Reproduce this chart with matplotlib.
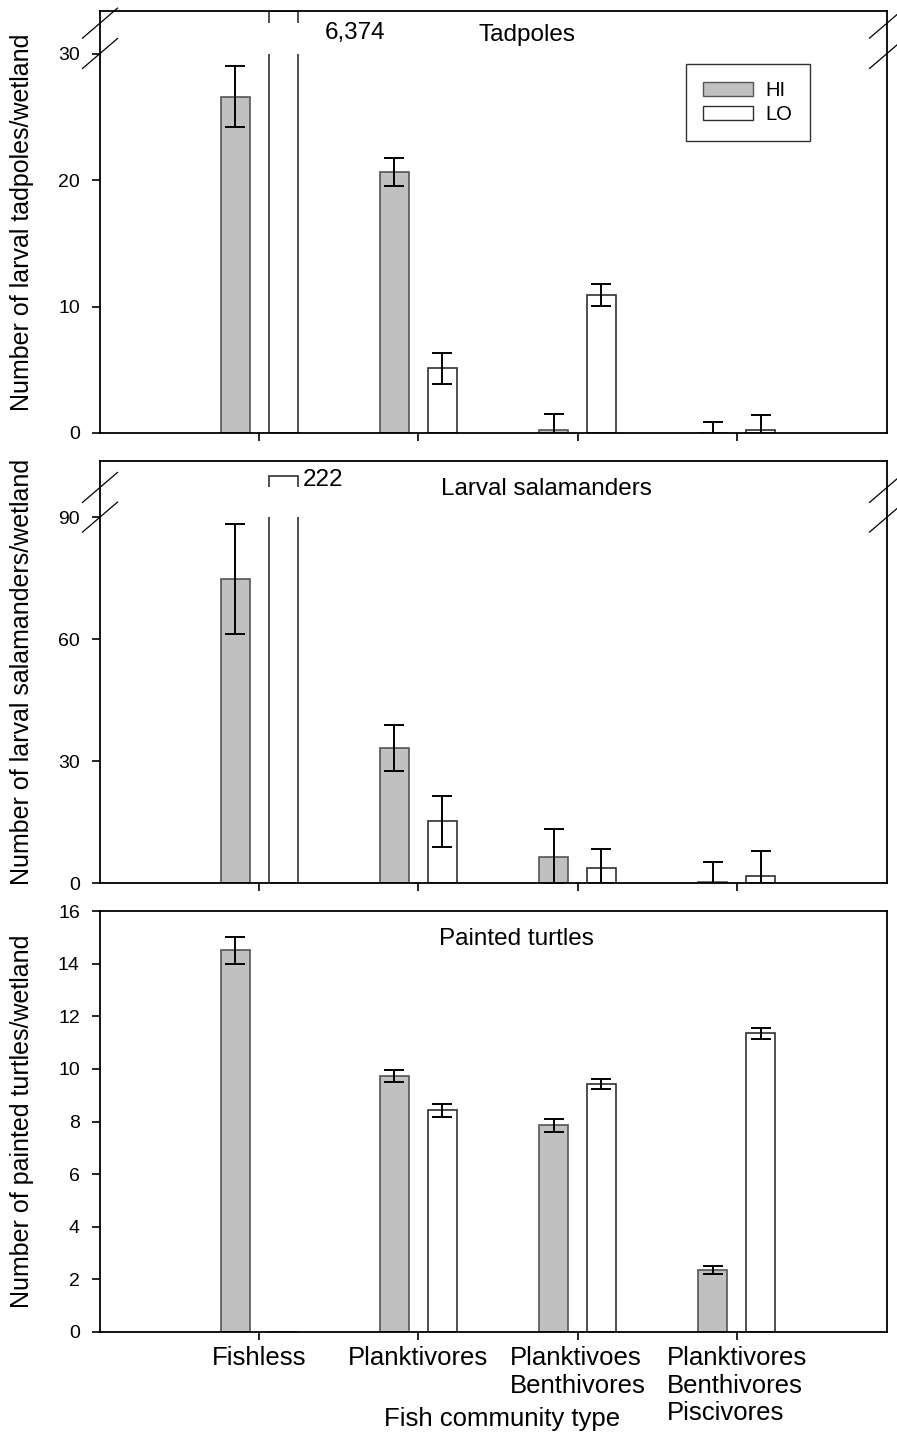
import numpy as np
import matplotlib
matplotlib.use("Agg")
import matplotlib.pyplot as plt
from matplotlib.patches import Rectangle, Patch

plt.rcParams['font.family'] = ['Liberation Sans', 'DejaVu Sans']

# ---------------- data ----------------
categories = ["Fishless", "Planktivores", "Planktivoes\nBenthivores",
              "Planktivores\nBenthivores\nPiscivores"]
series = ["HI", "LO"]

tad_hi = [26.6, 20.6, 0.26, 0.0]
tad_hi_err = [2.4, 1.1, 1.25, 0.9]
tad_lo = [6374, 5.1, 10.9, 0.24]
tad_lo_err = [np.nan, 1.2, 0.85, 1.15]

sal_hi = [74.7, 33.2, 6.5, 0.33]
sal_hi_err = [13.5, 5.75, 6.7, 4.9]
sal_lo = [222, 15.2, 3.8, 1.6]
sal_lo_err = [np.nan, 6.3, 4.6, 6.2]

tur_hi = [14.5, 9.73, 7.86, 2.36]
tur_hi_err = [0.5, 0.22, 0.25, 0.15]
tur_lo = [0.0, 8.43, 9.41, 11.35]
tur_lo_err = [0.0, 0.25, 0.19, 0.2]

titles = ["Tadpoles", "Larval salamanders", "Painted turtles"]
ylabels = ["Number of larval tadpoles/wetland",
           "Number of larval salamanders/wetland",
           "Number of painted turtles/wetland"]
yticks = [[0, 10, 20, 30], [0, 30, 60, 90], list(range(0, 17, 2))]
xlabel = "Fish community type"

# ---------------- style ----------------
W, H = 897, 1435
fig = plt.figure(figsize=(W / 100, H / 100), dpi=100)

L, R = 100, 887
panels = [(11, 433), (461, 883), (911, 1332)]
ylims = [33.36, 103.8, 16.0]
# (gap_low, gap_high, visual top of broken bar)
breaks = [(30.0, 32.4, 33.36), (90.0, 97.3, 100.0), None]

hi_color = "#c0c0c0"
hi_edge = "#555555"
lo_edge = "#303030"
off = 0.15
bw = 0.182
xpos = np.arange(1, len(categories) + 1)

data = [(tad_hi, tad_hi_err, tad_lo, tad_lo_err),
        (sal_hi, sal_hi_err, sal_lo, sal_lo_err),
        (tur_hi, tur_hi_err, tur_lo, tur_lo_err)]

title_pos = [(2.68, 31.0), (2.806, 95.4), (2.618, 14.71)]

axes = []
for i, (top, bot) in enumerate(panels):
    ax = fig.add_axes([L / W, 1 - bot / H, (R - L) / W, (bot - top) / H])
    axes.append(ax)
    hi, hie, lo, loe = [np.asarray(a, dtype=float) for a in data[i]]
    ytop = ylims[i]
    br = breaks[i]
    lo_draw = lo.copy()
    if br is not None:
        lo_draw = np.minimum(lo, br[2])

    ax.bar(xpos - off, hi, width=bw, color=hi_color, edgecolor=hi_edge,
           linewidth=1.2, zorder=2)
    ax.bar(xpos + off, lo_draw, width=bw, color="white", edgecolor=lo_edge,
           linewidth=1.2, zorder=2)

    m = np.isfinite(hie) & (hie > 0)
    ax.errorbar((xpos - off)[m], hi[m], yerr=hie[m], fmt="none", ecolor="black",
                elinewidth=1.4, capsize=7, capthick=1.4, zorder=4)
    m = np.isfinite(loe) & (loe > 0)
    ax.errorbar((xpos + off)[m], lo[m], yerr=loe[m], fmt="none", ecolor="black",
                elinewidth=1.4, capsize=7, capthick=1.4, zorder=4)

    if br is not None:
        # white gap in broken bar(s)
        for xb, v in zip(xpos + off, lo):
            if v > br[2]:
                ax.add_patch(Rectangle((xb - bw / 2 - 0.012, br[0]), bw + 0.024,
                                       br[1] - br[0], facecolor="white",
                                       edgecolor="none", zorder=3))
        # break marks on both spines
        hx = 17.5 / (R - L)
        hy = 15.0 / (bot - top)
        for xs in (0.0, 1.0):
            for yv in (br[0], br[1]):
                yf = yv / ytop
                ax.plot([xs - hx, xs + hx], [yf - hy, yf + hy], color="black",
                        lw=0.9, transform=ax.transAxes, clip_on=False, zorder=5)

    ax.set_xlim(0, 4.944)
    ax.set_ylim(0, ytop)
    ax.set_yticks(yticks[i])
    ax.set_xticks(xpos)
    ax.tick_params(axis="both", direction="out", length=6, width=1.2,
                   labelsize=14)
    ax.tick_params(axis="y", pad=8.5)
    for s in ax.spines.values():
        s.set_linewidth(1.3)
        s.set_color("black")
    if i < 2:
        ax.set_xticklabels([])
    else:
        ax.set_xticklabels(categories, fontsize=18.5, linespacing=1.2)
        for lab in ax.get_xticklabels():
            lab.set_multialignment("left")
        ax.tick_params(axis="x", pad=4)

    ax.set_ylabel(ylabels[i], fontsize=18)
    ax.yaxis.set_label_coords(-0.084, 0.5)

    tx, ty = title_pos[i]
    ax.text(tx, ty, titles[i], ha="center", va="baseline", fontsize=17.5)

# annotations for off-scale bars
axes[0].text(1.41, 31.6, "{:,}".format(int(tad_lo[0])), ha="left",
             va="center", fontsize=17.5)
axes[1].text(1.274, 99.1, "{:,}".format(int(sal_lo[0])), ha="left",
             va="center", fontsize=17.5)

# legend
handles = [Patch(facecolor=hi_color, edgecolor=hi_edge, linewidth=1.0),
           Patch(facecolor="white", edgecolor=lo_edge, linewidth=1.0)]
leg = axes[0].legend(handles, series, loc="upper left",
                     bbox_to_anchor=((686 - L) / (R - L), (433 - 64) / 422),
                     fontsize=14.5, frameon=True, fancybox=False,
                     handlelength=2.5, handleheight=0.7, labelspacing=0.25,
                     borderpad=0.85, handletextpad=0.6, borderaxespad=0)
leg.get_frame().set_edgecolor("black")
leg.get_frame().set_linewidth(1.0)

fig.text(502 / W, 1 - 1426 / H, xlabel, ha="center", va="baseline",
         fontsize=18.5)

fig.savefig("out.png", dpi=100)
